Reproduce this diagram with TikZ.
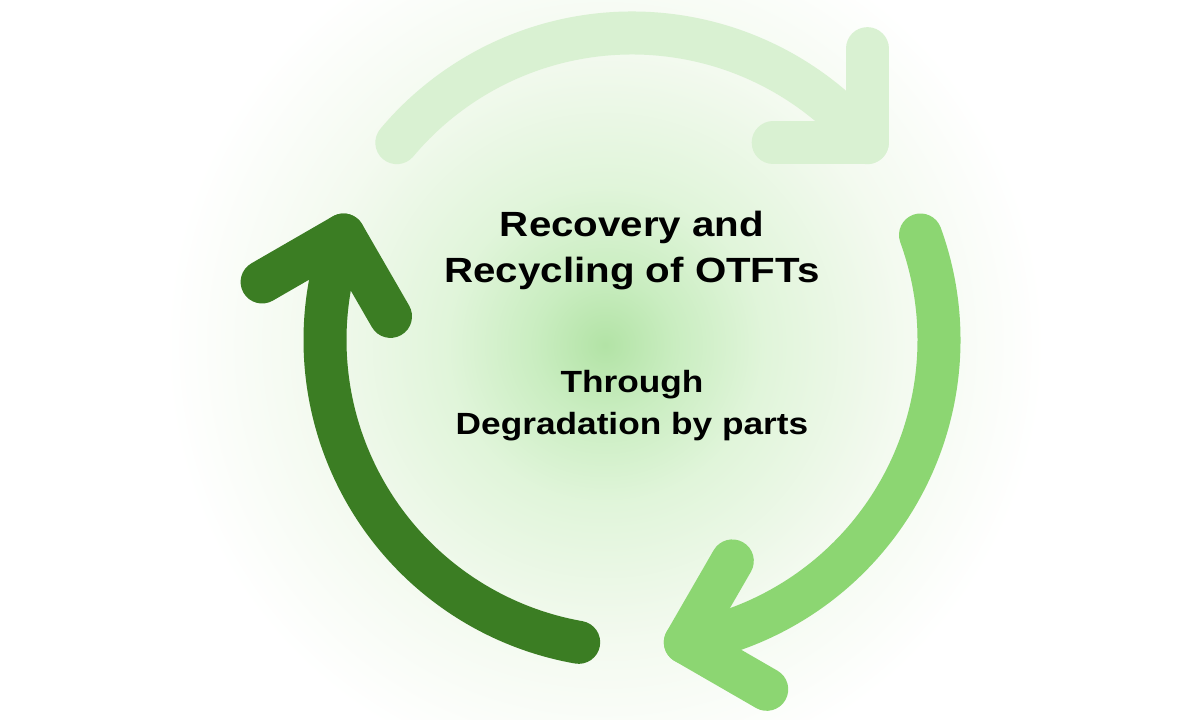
\documentclass[tikz,border=0pt]{standalone}
\usepackage{fontspec}
\newfontfamily\cyclefont[FakeStretch=1.15]{Liberation Sans}
\usetikzlibrary{calc}
\definecolor{palegreen}{RGB}{217,241,210}
\definecolor{midgreen}{RGB}{140,214,114}
\definecolor{darkgreen}{RGB}{59,125,35}
\def\rad{307}
\def\arcspan{100}
\def\barm{94}
\pgfdeclareradialshading{glow}{\pgfpoint{0bp}{0bp}}{%
  rgb(0bp)=(0.70,0.89,0.65); rgb(4bp)=(0.79,0.93,0.755);
  rgb(9bp)=(0.88,0.96,0.855); rgb(17bp)=(0.955,0.98,0.94);
  rgb(25bp)=(1,1,1); rgb(50bp)=(1,1,1)}

\begin{document}
\begin{tikzpicture}[x=0.025cm,y=0.025cm]
    \tikzset{%
      cyclearrow/.style={%
        line width=1.075cm, line cap=round, line join=round},
      titletext/.style={%
        align=center, inner sep=0pt, font=\cyclefont\bfseries\fontsize{24.9}{32.7}\selectfont},
      subtext/.style={%
        align=center, inner sep=0pt, font=\cyclefont\bfseries\fontsize{21.8}{29.9}\selectfont}}

    \useasboundingbox (0,0) rectangle (1200,720);
    \fill[white] (0,0) rectangle (1200,720);
    \shade[shading=glow] (605,375) circle (440);

    \coordinate (c) at (632,380);
    % three arcs, each ending in an open chevron
    \foreach \ang/\col [count=\i] in {40/palegreen, -80/midgreen, 160/darkgreen}{
      \coordinate (tip\i) at ($(c)+(\ang:\rad)$);
      \draw[cyclearrow, color=\col] ($(c)+(\ang+\arcspan:\rad)$) arc[start angle=\ang+\arcspan, end angle=\ang, radius=\rad];
      \draw[cyclearrow, color=\col] ($(tip\i)+(\ang+50:\barm)$) -- (tip\i) -- ($(tip\i)+(\ang+140:\barm)$);
    }

    \node[titletext] (title) at (632,469) {Recovery and\\Recycling of OTFTs};
    \node[subtext] (sub) at (632,314) {Through\\Degradation by parts};
  \end{tikzpicture}
\end{document}
